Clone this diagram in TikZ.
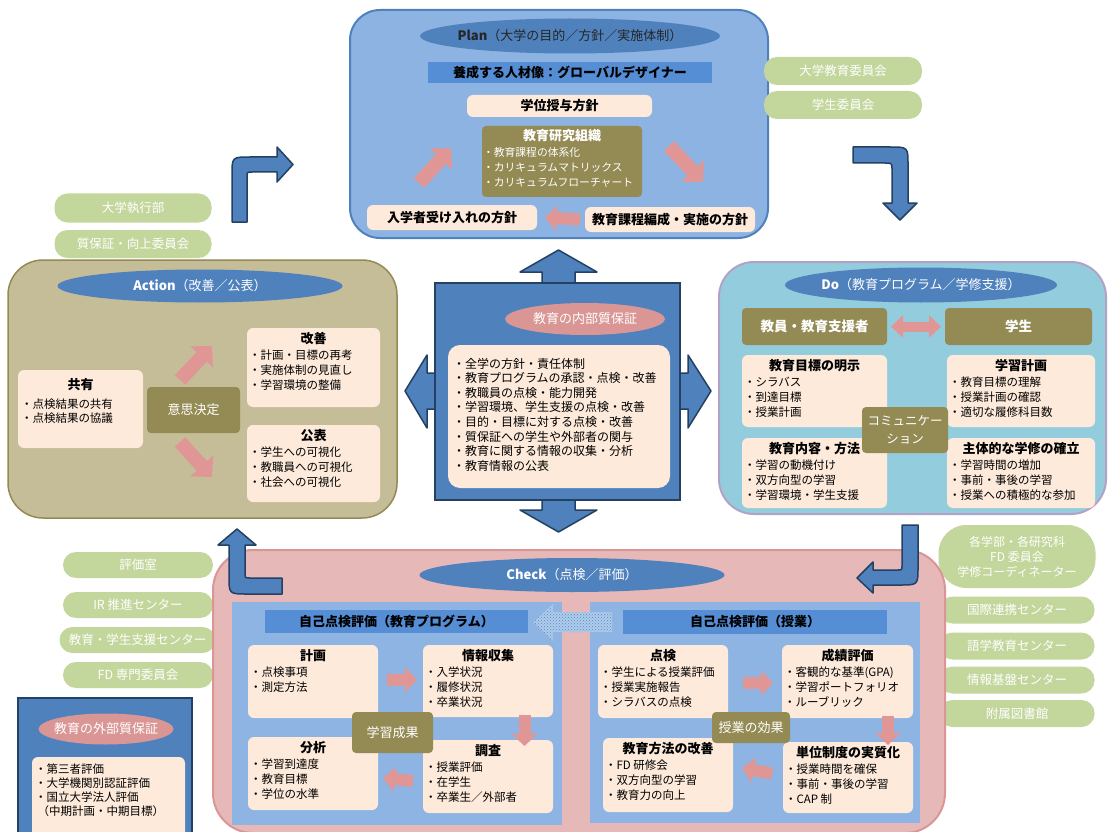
\documentclass[tikz,border=0pt]{standalone}
\usepackage{fontspec}
\setmainfont{Noto Sans CJK JP}
\usetikzlibrary{shapes.geometric,arrows.meta,patterns}

\definecolor{planfill}{RGB}{141,179,226}
\definecolor{planline}{RGB}{79,129,189}
\definecolor{midblue}{RGB}{79,129,189}
\definecolor{barblue}{RGB}{85,142,213}
\definecolor{peachc}{RGB}{253,234,218}
\definecolor{olivec}{RGB}{148,138,84}
\definecolor{actfill}{RGB}{196,189,151}
\definecolor{dofill}{RGB}{147,205,221}
\definecolor{doline}{RGB}{179,162,199}
\definecolor{chkfill}{RGB}{230,185,184}
\definecolor{chkline}{RGB}{217,150,148}
\definecolor{panelc}{RGB}{142,180,227}
\definecolor{greenc}{RGB}{195,214,155}
\definecolor{pinkc}{RGB}{225,150,150}
\definecolor{rosec}{RGB}{217,150,148}
\definecolor{navy}{RGB}{36,64,98}
\definecolor{dotbg}{RGB}{175,205,235}
\definecolor{dotfg}{RGB}{90,135,190}

\newcommand{\fsz}[2]{\fontsize{#1}{#2}\selectfont}

\tikzset{
  box/.style={inner sep=0pt, outer sep=0pt},
  bigbox/.style={box, rounded corners=#1, anchor=north west},
  peach/.style={box, fill=peachc, rounded corners=6pt},
  olivebox/.style={box, fill=olivec, rounded corners=4pt, text=white},
  pill/.style={box, fill=greenc, rounded corners=13pt, text=white,
    font=\fsz{12.5}{15}, minimum width=155, minimum height=27},
  headell/.style={box, ellipse, fill=midblue},
  headtxt/.style={box, font=\fsz{13}{15}, text=white},
  bar/.style={box, fill=barblue, font=\bfseries\fsz{13}{15}},
  ttl/.style={box, font=\bfseries\fsz{13}{15}},
  lst/.style={box, align=left, font=\fsz{11.5}{15}},
  pinkarrow/.style={draw=pinkc, line width=12pt, -{Triangle[width=25pt,length=12pt]}},
  pinkbig/.style={draw=pinkc, line width=14pt, -{Triangle[width=30pt,length=15pt]}},
  blockarrow/.style={fill=midblue, draw=navy, line width=1.5pt, line join=round},
}

% peach box with a bold title and a bullet list below it
\newcommand{\infobox}[8][peach]{%
  \node[#1, minimum width=#5, minimum height=#6, anchor=north west] (#2) at (#3,#4) {};
  \node[ttl, anchor=north] (#2-t) at ([yshift=-4pt]#2.north) {#7};
  \node[lst, anchor=north west] (#2-l) at ([xshift=2pt,yshift=-22pt]#2.north west) {#8};
}

\begin{document}
\begin{tikzpicture}[x=1pt,y=-1pt]
\useasboundingbox (0,0) rectangle (1109,832);
\fill[white] (0,0) rectangle (1109,832);

% ---------------- Plan ----------------
\node[bigbox=30pt, fill=planfill, draw=planline, line width=2pt,
      minimum width=418, minimum height=228] (plan) at (350,10) {};
\node[headell, minimum width=300, minimum height=35] (planhead) at (570,36) {};
\node[box, font=\fsz{13}{15}, text=black!85] (planhead-t) at (planhead)
  {\textbf{Plan}（大学の目的／方針／実施体制）};
\node[bar, minimum width=284, minimum height=21] (persona) at (570,73)
  {養成する人材像：グローバルデザイナー};
\node[peach, minimum width=185, minimum height=22, font=\bfseries\fsz{13}{15}]
  (degree) at (559.5,106) {学位授与方針};
\node[olivebox, minimum width=160, minimum height=71, anchor=north west] (soshiki) at (482,126) {};
\node[ttl, text=white, anchor=north] (soshiki-t) at ([yshift=-3pt]soshiki.north) {教育研究組織};
\node[lst, text=white, anchor=north west, font=\fsz{10.8}{15}] (soshiki-l)
  at ([xshift=1pt,yshift=-21pt]soshiki.north west)
  {・教育課程の体系化\\・カリキュラムマトリックス\\・カリキュラムフローチャート};
\node[peach, minimum width=170, minimum height=25, font=\bfseries\fsz{13}{15}]
  (admission) at (452,217.5) {入学者受け入れの方針};
\node[peach, minimum width=170, minimum height=25, font=\bfseries\fsz{13}{15}]
  (curriculum) at (670,219.5) {教育課程編成・実施の方針};
\draw[pinkbig] (419,183) -- (451,148);
\draw[pinkbig] (669,146) -- (703,182);
\draw[pinkarrow] ([xshift=-5pt]curriculum.west) -- ([xshift=8pt]admission.east);

% committees near Plan
\node[pill, minimum width=158, minimum height=28] (univedu) at (843,71) {大学教育委員会};
\node[pill, minimum width=158, minimum height=28] (student) at (843,105) {学生委員会};

% bent arrow Plan -> Do
\draw[blockarrow] (853,147) -- (890,147) .. controls (908,147) .. (908,165)
  -- (908,203) -- (917,203) -- (900,220) -- (883,203) -- (892,203) -- (892,170)
  .. controls (892,163) .. (885,163) -- (853,163) -- cycle;

% bent arrow Action -> Plan
\draw[blockarrow] (232,222) -- (232,175) .. controls (232,157) .. (250,157)
  -- (277,157) -- (277,147) -- (293,164.5) -- (277,182) -- (277,172) -- (252,172)
  .. controls (247,172) .. (247,177) -- (247,222) -- cycle;

% committees near Action
\node[pill, minimum width=157, minimum height=29] (exec) at (133,208) {大学執行部};
\node[pill, minimum width=157, minimum height=28] (qa) at (133,244) {質保証・向上委員会};

% ---------------- Action ----------------
\node[bigbox=35pt, fill=actfill, draw=olivec, line width=1.5pt,
      minimum width=389, minimum height=258] (action) at (8,260) {};
\node[headell, minimum width=285, minimum height=33] (acthead) at (200,286) {};
\node[headtxt] (acthead-t) at (acthead) {\textbf{Action}（改善／公表）};
\node[peach, minimum width=125, minimum height=78, anchor=north west] (share) at (18,370) {};
\node[ttl, anchor=north] (share-t) at ([yshift=-8pt]share.north) {共有};
\node[lst, font=\fsz{11.5}{14}, anchor=north west] (share-l) at ([xshift=3pt,yshift=-29pt]share.north west)
  {・点検結果の共有\\・点検結果の協議};
\node[olivebox, minimum width=93, minimum height=46, font=\fsz{13}{15}] (decide) at (193.5,410) {意思決定};
\infobox{improve}{247}{328}{133}{79}{改善}{・計画・目標の再考\\・実施体制の見直し\\・学習環境の整備}
\infobox{publish}{247}{425}{133}{77}{公表}{・学生への可視化\\・教職員への可視化\\・社会への可視化}
\draw[pinkbig] (180,380) -- (212,346);
\draw[pinkbig] (180,442) -- (212,477);

% ---------------- internal quality assurance ----------------
\draw[blockarrow] (542,284) -- (542,272) -- (520,272) -- (558.5,250) -- (597,272) -- (575,272) -- (575,284) -- cycle;
\draw[blockarrow] (542,499) -- (542,510) -- (520,510) -- (558.5,532) -- (597,510) -- (575,510) -- (575,499) -- cycle;
\draw[blockarrow] (436,373) -- (427,373) -- (427,355) -- (405,391) -- (427,428) -- (427,409) -- (436,409) -- cycle;
\draw[blockarrow] (679,373) -- (688,373) -- (688,355) -- (711,391) -- (688,428) -- (688,409) -- (679,409) -- cycle;
\node[box, fill=midblue, draw=navy, line width=2pt, minimum width=245, minimum height=217,
      anchor=north west] (internal) at (435,283) {};
\node[headell, fill=rosec, minimum width=160, minimum height=32] (inthead) at (585,319) {};
\node[headtxt] (inthead-t) at (inthead) {教育の内部質保証};
\node[peach, rounded corners=12pt, minimum width=222, minimum height=143, anchor=north west]
  (intlist) at (448,345) {};
\node[lst, font=\fsz{12}{14.6}, anchor=north west] (intlist-l) at ([xshift=5pt,yshift=-13pt]intlist.north west)
  {・全学の方針・責任体制\\・教育プログラムの承認・点検・改善\\・教職員の点検・能力開発\\
   ・学習環境、学生支援の点検・改善\\・目的・目標に対する点検・改善\\
   ・質保証への学生や外部者の関与\\・教育に関する情報の収集・分析\\・教育情報の公表};

% ---------------- Do ----------------
\node[bigbox=35pt, fill=dofill, draw=doline, line width=2pt,
      minimum width=387, minimum height=252] (do) at (719,262) {};
\node[headell, minimum width=272, minimum height=35] (dohead) at (921,285) {};
\node[headtxt] (dohead-t) at (dohead) {\textbf{Do}（教育プログラム／学修支援）};
\node[olivebox, minimum width=145, minimum height=37, font=\bfseries\fsz{13.5}{15}] (staff) at (814.5,326.5) {教員・教育支援者};
\node[olivebox, minimum width=147, minimum height=37, font=\bfseries\fsz{13.5}{15}] (learner) at (1018.5,326.5) {学生};
\draw[draw=pinkc, line width=10pt, {Triangle[width=22pt,length=12pt]}-{Triangle[width=22pt,length=12pt]}]
  ([xshift=4pt]staff.east) -- ([xshift=-4pt]learner.west);
\infobox{goals}{742}{355}{145}{72}{教育目標の明示}{・シラバス\\・到達目標\\・授業計画}
\infobox{plan2}{947}{355}{148}{72}{学習計画}{・教育目標の理解\\・授業計画の確認\\・適切な履修科目数}
\infobox{method}{742}{438}{145}{70}{教育内容・方法}{・学習の動機付け\\・双方向型の学習\\・学習環境・学生支援}
\infobox{active}{947}{438}{148}{70}{主体的な学修の確立}{・学習時間の増加\\・事前・事後の学習\\・授業への積極的な参加}
\node[olivebox, minimum width=86, minimum height=46, align=center, font=\fsz{12.5}{18}] (comm) at (905,430)
  {コミュニケー\\ション};

% committees near Do / Check
\node[pill, rounded corners=28pt, minimum width=157, minimum height=63, align=center, font=\fsz{12}{15}]
  (faculty) at (1017,556.5) {各学部・各研究科\\FD 委員会\\学修コーディネーター};
\node[pill] (intl) at (1017,610) {国際連携センター};
\node[pill] (lang) at (1017,646) {語学教育センター};
\node[pill] (info) at (1017,680) {情報基盤センター};
\node[pill] (lib) at (1017,713.5) {附属図書館};

% committees near Check
\node[pill, minimum width=150, minimum height=26] (evalroom) at (138,565) {評価室};
\node[pill, minimum width=150, minimum height=26] (ir) at (138,605) {IR 推進センター};
\node[pill, minimum width=156, minimum height=26] (support) at (137.5,640) {教育・学生支援センター};
\node[pill, minimum width=150, minimum height=26] (fd) at (138,675) {FD 専門委員会};

% ---------------- Check ----------------
\node[bigbox=40pt, fill=chkfill, draw=chkline, line width=2pt,
      minimum width=732, minimum height=283] (check) at (213,550) {};
\node[headell, minimum width=305, minimum height=34] (chkhead) at (572,575) {};
\node[headtxt] (chkhead-t) at (chkhead) {\textbf{Check}（点検／評価）};
\node[box, fill=panelc, minimum width=330, minimum height=223, anchor=north west] (progpanel) at (232,602) {};
\node[box, fill=panelc, minimum width=330, minimum height=221, anchor=north west] (classpanel) at (590,602) {};
\node[bar, minimum width=263, minimum height=23, anchor=north west] (proghead) at (265,610) {自己点検評価（教育プログラム）};
\node[bar, minimum width=264, minimum height=24, anchor=north west] (classhead) at (623,610) {自己点検評価（授業）};

\infobox{pplan}{248}{645}{130}{73}{計画}{・点検事項\\・測定方法}
\infobox{pcollect}{423}{645}{130}{72}{情報収集}{・入学状況\\・履修状況\\・卒業状況}
\infobox{panalyse}{248}{737}{130}{73}{分析}{・学習到達度\\・教育目標\\・学位の水準}
\infobox{psurvey}{423}{740}{130}{73}{調査}{・授業評価\\・在学生\\・卒業生／外部者}
\node[olivebox, minimum width=81, minimum height=41, font=\fsz{13}{15}] (outcome) at (392.5,732.5) {学習成果};
\draw[pinkarrow] ([xshift=9pt,yshift=1.5pt]pplan.east) -- ([xshift=-6pt,yshift=1.5pt]pcollect.west);
\draw[pinkarrow] (524.5,715) -- (524.5,746);
\draw[pinkarrow] ([xshift=-10pt,yshift=-4.5pt]psurvey.west) -- ([xshift=5pt,yshift=-4.5pt]panalyse.east);

\infobox{cinspect}{598}{645}{130}{73}{点検}{・学生による授業評価\\・授業実施報告\\・シラバスの点検}
\infobox{cgrade}{782}{645}{131}{73}{成績評価}{・客観的な基準(GPA)\\・学習ポートフォリオ\\・ルーブリック}
\infobox{cmethod}{603}{738}{130}{74}{教育方法の改善}{・FD 研修会\\・双方向型の学習\\・教育力の向上}
\infobox{ccredit}{783}{742}{130}{71}{単位制度の実質化}{・授業時間を確保\\・事前・事後の学習\\・CAP 制}
\node[olivebox, minimum width=78, minimum height=31, font=\fsz{13}{15}] (effect) at (751,727.5) {授業の効果};
\draw[pinkarrow] ([xshift=15pt,yshift=-1.5pt]cinspect.east) -- ([xshift=-9pt,yshift=-1.5pt]cgrade.west);
\draw[pinkarrow] (888,716) -- (888,745);
\draw[pinkarrow] ([xshift=-11pt,yshift=4pt]ccredit.west) -- ([xshift=9pt,yshift=7pt]cmethod.east);

% dotted arrow from the class review to the programme review
\fill[dotbg] (533,622) -- (553,604) -- (553,612) -- (612,612) -- (612,632) -- (553,632) -- (553,641) -- cycle;
\fill[pattern=crosshatch dots, pattern color=dotfg] (533,622) -- (553,604) -- (553,612) -- (612,612)
  -- (612,632) -- (553,632) -- (553,641) -- cycle;

% bent arrow Do -> Check
\draw[blockarrow] (902,525) -- (918,525) -- (918,567) .. controls (918,585) .. (900,585)
  -- (873,585) -- (873,593) -- (857,578) -- (873,562) -- (873,570) -- (898,570)
  .. controls (902,570) .. (902,566) -- cycle;

% bent arrow Check -> Action
\draw[blockarrow] (229,545) -- (229,576) .. controls (229,594) .. (247,594) -- (282,594)
  -- (282,578) -- (250,578) .. controls (245,578) .. (245,573) -- (245,545) -- (256,545)
  -- (237,529) -- (218,545) -- cycle;

% ---------------- external quality assurance ----------------
\node[box, fill=midblue, draw=navy, line width=2pt, minimum width=174, minimum height=140,
      anchor=north west] (external) at (18,698) {};
\node[headell, fill=rosec, minimum width=135, minimum height=31] (exthead) at (106,729) {};
\node[headtxt] (exthead-t) at (exthead) {教育の外部質保証};
\node[peach, minimum width=153, minimum height=85, anchor=north west] (extlist) at (32,757) {};
\node[lst, font=\fsz{11.5}{14}, anchor=north west] (extlist-l) at ([xshift=3pt,yshift=-7pt]extlist.north west)
  {・第三者評価\\・大学機関別認証評価\\・国立大学法人評価\\\ （中期計画・中期目標）};
\end{tikzpicture}
\end{document}
